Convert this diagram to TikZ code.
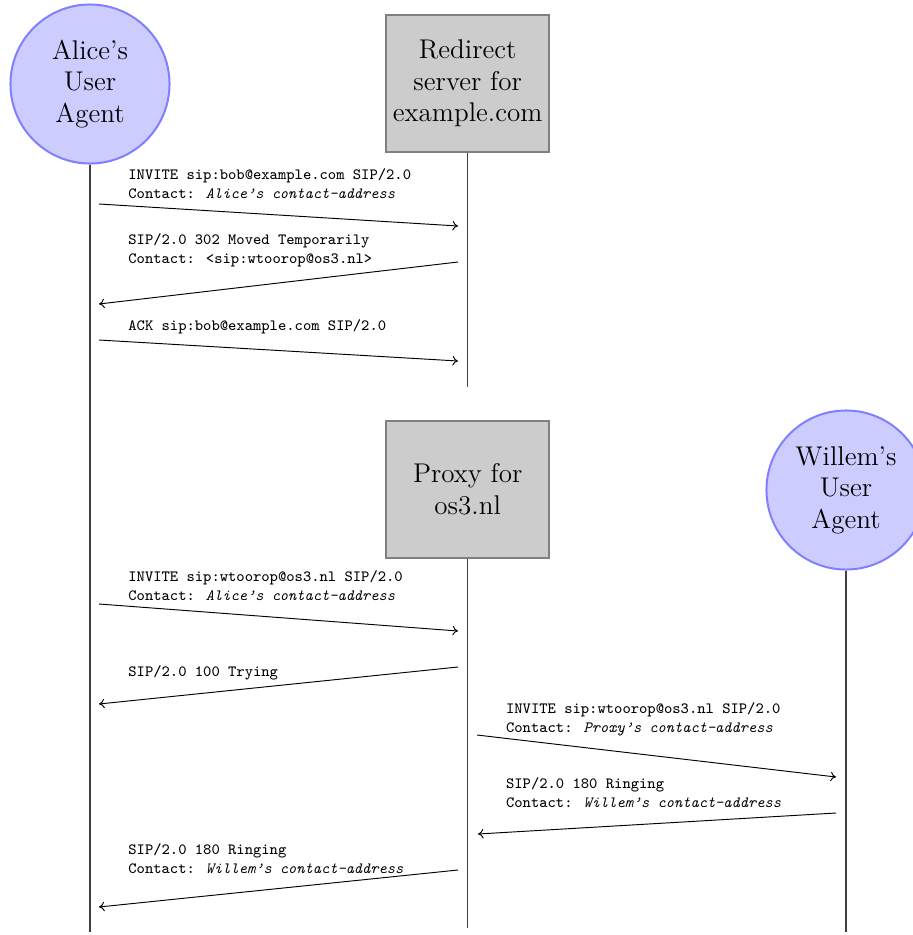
\documentclass[tikz,border=0pt]{standalone}
\usetikzlibrary{arrows.meta}
\tikzset{
  agent/.style={circle, draw=blue!50, fill=blue!20, line width=1.06pt,
    minimum size=84.3pt, inner sep=0pt, align=center,
    font=\fontsize{14.35}{16.7}\selectfont},
  server/.style={rectangle, draw=black!50, fill=black!20, line width=1.06pt,
    minimum width=86.4pt, minimum height=72.6pt, inner sep=0pt, align=center,
    font=\fontsize{14.35}{16.7}\selectfont},
  lifeline/.style={draw=black!75, line width=0.65pt},
  msg/.style={-{To[length=2.9pt,width=5pt]}, line width=0.5pt},
  lbl/.style={anchor=base west, align=left, inner sep=0pt,
    font=\fontsize{8.3}{9.96}\ttfamily\selectfont}
}
\begin{document}
\begin{tikzpicture}[x=0.53pt,y=-0.53pt]
\clip (0,0) rectangle (913,935);
% participants
\node[agent]  (alice)  at (90,84)      {Alice’s\\User\\Agent};
\node[server] (redir)  at (467.7,83.5) {Redirect\\server for\\example.com};
\node[server] (proxy)  at (467.7,489.3){Proxy for\\os3.nl};
\node[agent]  (willem) at (846,490)    {Willem’s\\User\\Agent};
% lifeline ends
\coordinate (aliceEnd)  at (90,932);
\coordinate (redirEnd)  at (467.7,387);
\coordinate (proxyEnd)  at (467.7,928);
\coordinate (willemEnd) at (846,932);
\draw[lifeline] (alice.south)  -- (aliceEnd);
\draw[lifeline] (redir.south)  -- (redirEnd);
\draw[lifeline] (proxy.south)  -- (proxyEnd);
\draw[lifeline] (willem.south) -- (willemEnd);
% message end points
\coordinate (m1s) at (99,204);   \coordinate (m1e) at (458,226);
\coordinate (m2s) at (458,262);  \coordinate (m2e) at (99,304);
\coordinate (m3s) at (99,340);   \coordinate (m3e) at (458,361);
\coordinate (m4s) at (99,604);   \coordinate (m4e) at (458,631);
\coordinate (m5s) at (458,667);  \coordinate (m5e) at (99,704);
\coordinate (m6s) at (477,735);  \coordinate (m6e) at (836,777);
\coordinate (m7s) at (836,813);  \coordinate (m7e) at (478,834);
\coordinate (m8s) at (458,870);  \coordinate (m8e) at (99,907);
% messages
\draw[msg] (m1s) -- (m1e);
\draw[msg] (m2s) -- (m2e);
\draw[msg] (m3s) -- (m3e);
\draw[msg] (m4s) -- (m4e);
\draw[msg] (m5s) -- (m5e);
\draw[msg] (m6s) -- (m6e);
\draw[msg] (m7s) -- (m7e);
\draw[msg] (m8s) -- (m8e);
% labels (anchored at the baseline of their last line)
\node[lbl] (l1) at (128,198)   {INVITE sip:bob@example.com SIP/2.0\\Contact: \textit{Alice’s contact-address}};
\node[lbl] (l2) at (128,263)   {SIP/2.0 302 Moved Temporarily\\Contact: <sip:wtoorop@os3.nl>};
\node[lbl] (l3) at (128,330)   {ACK sip:bob@example.com SIP/2.0};
\node[lbl] (l4) at (128,600.7) {INVITE sip:wtoorop@os3.nl SIP/2.0\\Contact: \textit{Alice’s contact-address}};
\node[lbl] (l5) at (128,676.7) {SIP/2.0 100 Trying};
\node[lbl] (l6) at (505.7,732) {INVITE sip:wtoorop@os3.nl SIP/2.0\\Contact: \textit{Proxy’s contact-address}};
\node[lbl] (l7) at (505.7,807.3) {SIP/2.0 180 Ringing\\Contact: \textit{Willem’s contact-address}};
\node[lbl] (l8) at (128,873)   {SIP/2.0 180 Ringing\\Contact: \textit{Willem’s contact-address}};
\end{tikzpicture}
\end{document}
